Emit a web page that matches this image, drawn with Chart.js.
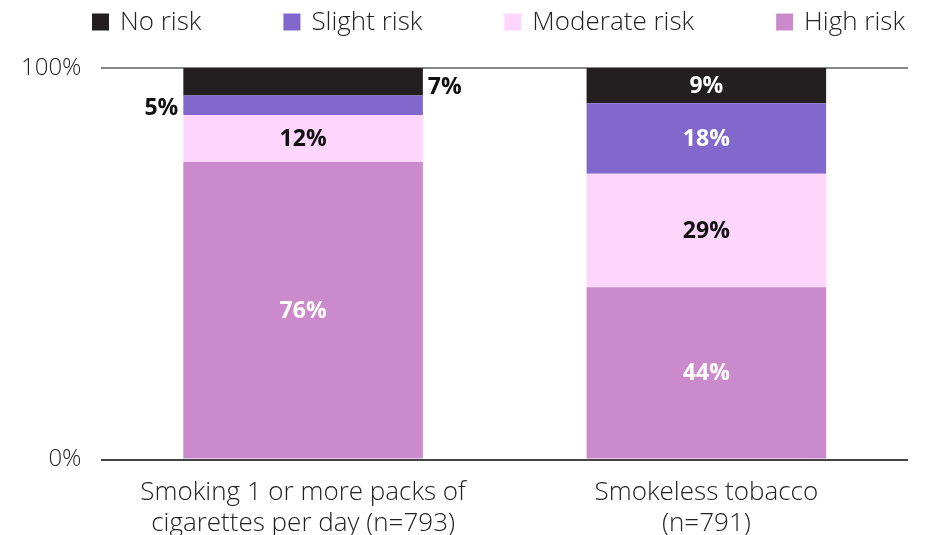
<!DOCTYPE html>
<html>
<head>
<meta charset="utf-8">
<script src="https://cdn.jsdelivr.net/npm/chart.js@4/dist/chart.umd.min.js"></script>
<style>
  html, body { margin: 0; padding: 0; background: #fff; overflow: hidden; }
  #wrap { position: relative; width: 928px; height: 548px; }
</style>
</head>
<body>
<div id="wrap"><canvas id="chart"></canvas></div>
<script>
// Perceived risk of harm, share of respondents (%)
const categories = [
  ["Smoking 1 or more packs of", "cigarettes per day (n=793)"],
  ["Smokeless tobacco", "(n=791)"]
];
const seriesNames = ["No risk", "Slight risk", "Moderate risk", "High risk"];
const noRisk = [7, 9];
const slightRisk = [5, 18];
const moderateRisk = [12, 29];
const highRisk = [76, 44];
const yTicks = [0, 100];

const colors = ["#231f20", "#8268cc", "#fdd5fd", "#cb8acc"];
const labelColors = ["#ffffff", "#ffffff", "#111111", "#ffffff"];
const FONT = "'Open Sans', 'Noto Sans', sans-serif";

// stacked bottom-up: High, Moderate, Slight, No risk
const values = [noRisk, slightRisk, moderateRisk, highRisk];
const datasets = values.map((v, i) => ({
  label: seriesNames[i],
  data: v,
  backgroundColor: colors[i],
  borderWidth: 0,
  barPercentage: 0.594,
  categoryPercentage: 1,
  stack: "s"
})).reverse();

// legend row across the top, drawn on the canvas
const topLegend = {
  id: "topLegend",
  afterDraw(chart) {
    const ctx = chart.ctx;
    const box = 17, gapText = 11, gapItem = 82;
    ctx.save();
    ctx.font = "300 26px " + FONT;
    ctx.textBaseline = "middle";
    ctx.textAlign = "left";
    const widths = seriesNames.map(n => ctx.measureText(n).width);
    const total = widths.reduce((a, w) => a + box + gapText + w, 0) + gapItem * (seriesNames.length - 1);
    const ca = chart.chartArea;
    let x = ca.right - 3 - total;
    const cy = 22;
    seriesNames.forEach((n, i) => {
      ctx.fillStyle = colors[i];
      ctx.fillRect(x, cy - box / 2, box, box);
      ctx.fillStyle = "#222";
      ctx.fillText(n, x + box + gapText, cy + 1);
      x += box + gapText + widths[i] + gapItem;
    });
    ctx.restore();
  }
};

// value labels: inside the segment, or beside the bar when the segment is thin
const valueLabels = {
  id: "valueLabels",
  afterDatasetsDraw(chart) {
    const ctx = chart.ctx;
    ctx.save();
    ctx.font = "bold 23px " + FONT;
    ctx.textBaseline = "middle";
    chart.data.datasets.forEach((ds, di) => {
      const meta = chart.getDatasetMeta(di);
      const sIdx = seriesNames.indexOf(ds.label);
      meta.data.forEach((bar, j) => {
        const v = ds.data[j];
        const { x, y, base, width } = bar.getProps(["x", "y", "base", "width"], true);
        const cy = (y + base) / 2;
        const text = v + "%";
        if (v < 8) {
          ctx.fillStyle = "#111111";
          if (sIdx === 0) {
            ctx.textAlign = "left";
            ctx.fillText(text, x + width / 2 + 5, cy + 6);
          } else {
            ctx.textAlign = "right";
            ctx.fillText(text, x - width / 2 - 5, cy + 3);
          }
        } else {
          ctx.fillStyle = labelColors[sIdx];
          ctx.textAlign = "center";
          ctx.fillText(text, x, cy + 1);
        }
      });
    });
    ctx.restore();
  }
};

new Chart(document.getElementById("chart"), {
  type: "bar",
  data: { labels: categories, datasets: datasets },
  plugins: [valueLabels, topLegend],
  options: {
    responsive: true,
    maintainAspectRatio: false,
    animation: false,
    layout: { padding: { left: 1, right: 20, top: 68, bottom: 0 } },
    plugins: {
      tooltip: { enabled: false },
      legend: { display: false }
    },
    scales: {
      x: {
        stacked: true,
        grid: { display: false },
        border: { display: false },
        ticks: {
          color: "#222",
          padding: 9,
          maxRotation: 0,
          font: { family: FONT, size: 26, weight: "300", lineHeight: 1.2 }
        }
      },
      y: {
        stacked: true,
        min: 0,
        max: 100,
        afterBuildTicks(axis) { axis.ticks = yTicks.map(v => ({ value: v })); },
        grid: {
          drawTicks: false,
          lineWidth: 2,
          color: c => (c.tick && c.tick.value === 0 ? "#444" : "#888")
        },
        border: { display: false },
        ticks: {
          color: "#222",
          padding: 20,
          font: { family: FONT, size: 24, weight: "300" },
          callback: v => v + "%"
        }
      }
    }
  }
});
</script>
</body>
</html>
